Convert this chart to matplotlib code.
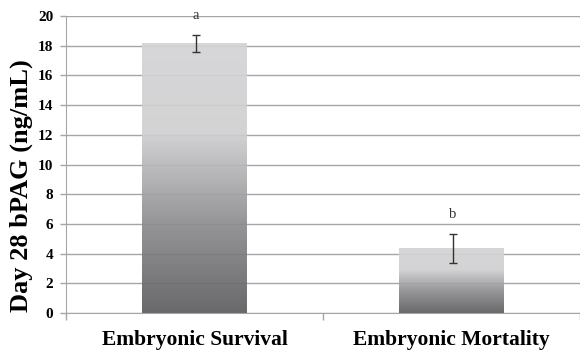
import numpy as np
import matplotlib.pyplot as plt
from matplotlib.colors import LinearSegmentedColormap

groups = ['Embryonic Survival', 'Embryonic Mortality']
pag_means = [18.15, 4.37]
pag_sem = [0.6, 0.97]
letters = ['a', 'b']
y_ticks = [0, 2, 4, 6, 8, 10, 12, 14, 16, 18, 20]

plt.rcParams['font.family'] = ['Liberation Serif', 'DejaVu Serif']

fig = plt.figure(figsize=(5.8, 3.53), dpi=100)
ax = fig.add_axes([66 / 580, 40 / 353, 514 / 580, 297 / 353])

x = np.arange(len(groups)) + 0.5
grey = '#a6a6a6'

ax.set_xlim(0, 2)
ax.set_ylim(0, 20)
ax.set_yticks(y_ticks)
ax.yaxis.grid(True, color=grey, linewidth=1)
ax.set_axisbelow(True)

# vertical grey gradient, dark at the base, light at the top
shade = LinearSegmentedColormap.from_list('shade', ['#5c5c5f', '#8c8c8f', '#cfcfd1', '#d4d4d6'])
grad = np.linspace(0, 1, 256).reshape(-1, 1)

bars = ax.bar(x, pag_means, width=0.405, color='none', edgecolor='none', zorder=2)
for b in bars:
    x0, y0 = b.get_x(), b.get_y()
    im = ax.imshow(grad, cmap=shade, origin='lower', aspect='auto', alpha=0.92,
                   extent=[x0, x0 + b.get_width(), y0, y0 + b.get_height()], zorder=2)
    im.set_clip_path(b)

ax.errorbar(x + 0.005, pag_means, yerr=pag_sem, fmt='none', ecolor='#333333',
            elinewidth=1, capsize=3, capthick=1, zorder=3)

for xi, m, e, t in zip(x, pag_means, pag_sem, letters):
    ax.text(xi + 0.005, m + e + 1.3, t, ha='center', va='center', fontsize=10.5, color='#333333')

ax.set_xticks(x)
ax.set_xticklabels(groups, fontsize=15.5, fontweight='bold')
ax.set_xticks([0, 1, 2], minor=True)
ax.tick_params(axis='x', which='major', length=0, pad=12)
ax.tick_params(axis='x', which='minor', length=5, color=grey, width=1)
ax.tick_params(axis='y', length=4, color=grey, width=1, pad=5, labelsize=11)
for lab in ax.get_yticklabels():
    lab.set_fontweight('bold')

ax.set_ylabel('Day 28 bPAG (ng/mL)', fontsize=19, fontweight='bold')
ax.yaxis.set_label_coords(-0.064, 0.43)

for s in ['top', 'right']:
    ax.spines[s].set_visible(False)
ax.spines['left'].set_color(grey)
ax.spines['bottom'].set_color(grey)

fig.savefig('out.png', dpi=100)
